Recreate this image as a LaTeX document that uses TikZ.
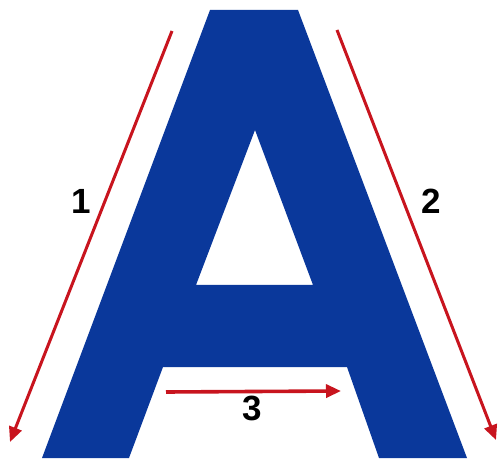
\documentclass[tikz,border=0pt]{standalone}
\usepackage{fontspec}
\setmainfont{Liberation Sans}
\usetikzlibrary{arrows.meta}
\definecolor{ablue}{RGB}{10,56,155}
\definecolor{ared}{RGB}{200,20,30}
\tikzset{
  redarrow/.style={draw=ared, line width=3pt, -{Triangle[length=15pt,width=13pt]}},
  numlabel/.style={font=\fontsize{35}{35}\selectfont\bfseries, text=black, inner sep=0pt}
}
\begin{document}
\begin{tikzpicture}[x=1pt,y=-1pt]
\useasboundingbox[fill=white] (0,0) rectangle (498,462);
% letter A
\fill[ablue, even odd rule]
  (210,10) -- (298,10) -- (467,458) -- (379,458) -- (347,367) -- (163,367) -- (129,458) -- (42,458) -- cycle
  (255,130) -- (313,285) -- (196,285) -- cycle;
% arrow end points
\coordinate (a1s) at (172,31);
\coordinate (a1e) at (10,442);
\coordinate (a2s) at (337,30);
\coordinate (a2e) at (496,440);
\coordinate (a3s) at (166,392);
\coordinate (a3e) at (341,391);
\draw[redarrow] (a1s) -- (a1e);
\draw[redarrow] (a2s) -- (a2e);
\draw[redarrow, line width=3.6pt] (a3s) -- (a3e);
% labels
\node[numlabel] (l1) at (81,201) {1};
\node[numlabel] (l2) at (431,201) {2};
\node[numlabel] (l3) at (252,408) {3};
\end{tikzpicture}
\end{document}
